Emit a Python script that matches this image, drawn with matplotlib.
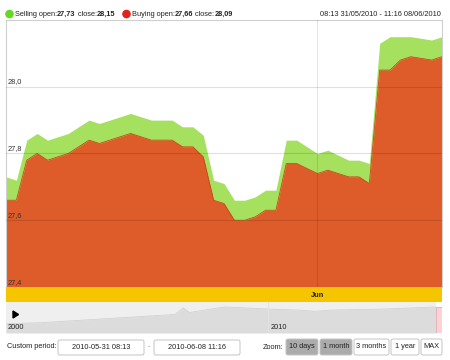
import matplotlib
matplotlib.use("Agg")
import matplotlib.pyplot as plt
import matplotlib.transforms as mtransforms
from matplotlib.patches import FancyBboxPatch, Circle, Polygon

plt.rcParams['font.family'] = ['Liberation Sans', 'DejaVu Sans']

# main series (x = sample index)
idx = [0, 1, 2, 3, 4, 5, 6, 8, 9, 12, 13, 14, 16, 17, 18, 19, 20, 21, 22, 23,
       24, 25, 26, 27, 28, 30, 31, 32, 33, 34, 35, 36, 37, 38, 39, 41, 42]
selling = [27.73, 27.72, 27.84, 27.86, 27.84, 27.85, 27.86, 27.90, 27.89, 27.92,
           27.91, 27.90, 27.90, 27.88, 27.88, 27.855, 27.72, 27.71, 27.66, 27.66,
           27.67, 27.69, 27.69, 27.84, 27.84, 27.80, 27.81, 27.795, 27.78, 27.78,
           27.77, 28.13, 28.15, 28.15, 28.15, 28.14, 28.15]
buying = [27.66, 27.66, 27.78, 27.80, 27.78, 27.79, 27.80, 27.84, 27.83, 27.86,
          27.85, 27.84, 27.84, 27.82, 27.82, 27.79, 27.66, 27.65, 27.60, 27.60,
          27.61, 27.63, 27.63, 27.77, 27.77, 27.74, 27.75, 27.74, 27.73, 27.73,
          27.71, 28.05, 28.05, 28.08, 28.09, 28.08, 28.09]
y_ticks = [27.4, 27.6, 27.8, 28.0]
y_labels = ["27,4", "27,6", "27,8", "28,0"]
jun_idx = 30

# navigator overview
nav_years = [2000.0, 2001.3, 2003.6, 2005.5, 2006.45, 2006.76, 2007.0, 2007.8,
             2008.36, 2010.08, 2011.2, 2011.8, 2012.4, 2014.3, 2016.4]
nav_vals = [0.30, 0.33, 0.45, 0.55, 0.60, 0.81, 0.66, 0.77, 0.84, 0.77, 0.74,
            0.70, 0.74, 0.77, 0.84]

GREEN = "#a5e15e"
ORANGE = "#de5c29"
YELLOW = "#f5c500"
FS = 5.3

W, H = 450, 360


def px(x0, y0, x1, y1):
    return [x0 / W, 1 - y1 / H, (x1 - x0) / W, (y1 - y0) / H]


fig = plt.figure(figsize=(4.5, 3.6), dpi=100, facecolor="white")

# main chart
ax = fig.add_axes(px(6, 20, 442, 287))
ax.fill_between(idx, selling, 27.3, color=GREEN, lw=0, zorder=1)
ax.fill_between(idx, buying, 27.3, color=ORANGE, lw=0, zorder=2)
ax.plot(idx, buying, color="#c9471a", lw=0.6, zorder=2)
for v, lab in zip(y_ticks, y_labels):
    ax.axhline(v, color="black", alpha=0.12, lw=0.8, zorder=3)
    ax.text(0.004, v + 0.004, lab, transform=mtransforms.blended_transform_factory(ax.transAxes, ax.transData),
            fontsize=FS, color="#333333", va="bottom", ha="left", zorder=4)
ax.axvline(jun_idx, color="black", alpha=0.1, lw=0.8, zorder=3)
ax.set_xlim(0, 42)
ax.set_ylim(27.4, 28.2)
ax.set_xticks([])
ax.set_yticks([])
ax.spines["bottom"].set_visible(False)
for s in ["left", "top", "right"]:
    ax.spines[s].set_color("#cfcfcf")
    ax.spines[s].set_linewidth(0.8)

# month band
band = fig.add_axes(px(6, 287, 442, 302))
band.set_facecolor(YELLOW)
band.set_xlim(0, 42)
band.set_ylim(0, 1)
band.text(jun_idx, 0.45, "Jun", fontsize=FS, fontweight="bold", ha="center", va="center", color="#222222")
band.set_xticks([])
band.set_yticks([])
for s in band.spines.values():
    s.set_visible(False)

# navigator
nav = fig.add_axes(px(6, 302, 442, 333))
nav.set_facecolor("#efefef")
nav.fill_between(nav_years, nav_vals, 0, color="#dcdcdc", lw=0)
nav.plot(nav_years, nav_vals, color="#d2d2d2", lw=0.6)
nav.axvline(2010, color="#e2e2e2", lw=0.8)
nav.axvspan(2016.41, 2016.64, ymin=0, ymax=0.84, facecolor="#fbd3d6", edgecolor="#e9a9ae", lw=0.6)
nav.axvspan(2016.41, 2016.64, ymin=0.84, ymax=1, facecolor="white", lw=0)
nav.set_xlim(2000, 2016.64)
nav.set_ylim(0, 1)
nav.text(2000.08, 0.05, "2000", fontsize=FS, color="#222222", va="bottom")
nav.text(2010.08, 0.05, "2010", fontsize=FS, color="#222222", va="bottom")
nav.set_xticks([])
nav.set_yticks([])
for s in nav.spines.values():
    s.set_visible(False)

# overlay in pixel coordinates for the UI bits
ov = fig.add_axes([0, 0, 1, 1], facecolor="none")
ov.set_xlim(0, W)
ov.set_ylim(H, 0)
ov.axis("off")

renderer = fig.canvas.get_renderer()


def rich(x, y, parts):
    for s, wgt in parts:
        t = ov.text(x, y, s, fontsize=FS, fontweight=wgt, va="center", ha="left", color="#222222")
        x += t.get_window_extent(renderer).width
    return x


ov.add_patch(Circle((9.5, 14), 3.6, color="#68d626"))
rich(15, 14, [("Selling open:", "normal"), ("27,73", "bold"), (" close:", "normal"), ("28,15", "bold")])
ov.add_patch(Circle((126.5, 14), 3.6, color="#e3231b"))
rich(132, 14, [("Buying open:", "normal"), ("27,66", "bold"), (" close:", "normal"), ("28,09", "bold")])
ov.text(441, 14, "08:13 31/05/2010 - 11:16 08/06/2010", fontsize=FS, ha="right", va="center", color="#222222")

ov.add_patch(Polygon([[13, 311], [13, 318], [18.5, 314.5]], closed=True, color="black"))

# custom period inputs
ov.text(7, 347, "Custom period:", fontsize=FS, va="center", color="#222222")
for x0, x1, s in [(58, 144, "2010-05-31 08:13"), (154, 240, "2010-06-08 11:16")]:
    ov.add_patch(FancyBboxPatch((x0, 340), x1 - x0, 15, boxstyle="round,pad=0,rounding_size=2",
                                fc="white", ec="#c4c4c4", lw=0.7))
    ov.text((x0 + x1) / 2, 347.5, s, fontsize=FS, ha="center", va="center", color="#222222")
ov.text(149, 347, "-", fontsize=FS, ha="center", va="center", color="#888888")

# zoom buttons
ov.text(283, 347.5, "Zoom:", fontsize=FS, ha="right", va="center", color="#222222")
buttons = [(286, 318, "10 days", True), (320, 352, "1 month", True), (354, 389, "3 months", False),
           (391, 419, "1 year", False), (421, 442, "MAX", False)]
for x0, x1, s, active in buttons:
    ov.add_patch(FancyBboxPatch((x0, 339), x1 - x0, 16, boxstyle="round,pad=0,rounding_size=2",
                                fc="#ababab" if active else "white", ec="#c4c4c4", lw=0.7))
    ov.text((x0 + x1) / 2, 347, s, fontsize=FS, ha="center", va="center", color="#222222")

fig.savefig("out.png", dpi=100, facecolor="white")
